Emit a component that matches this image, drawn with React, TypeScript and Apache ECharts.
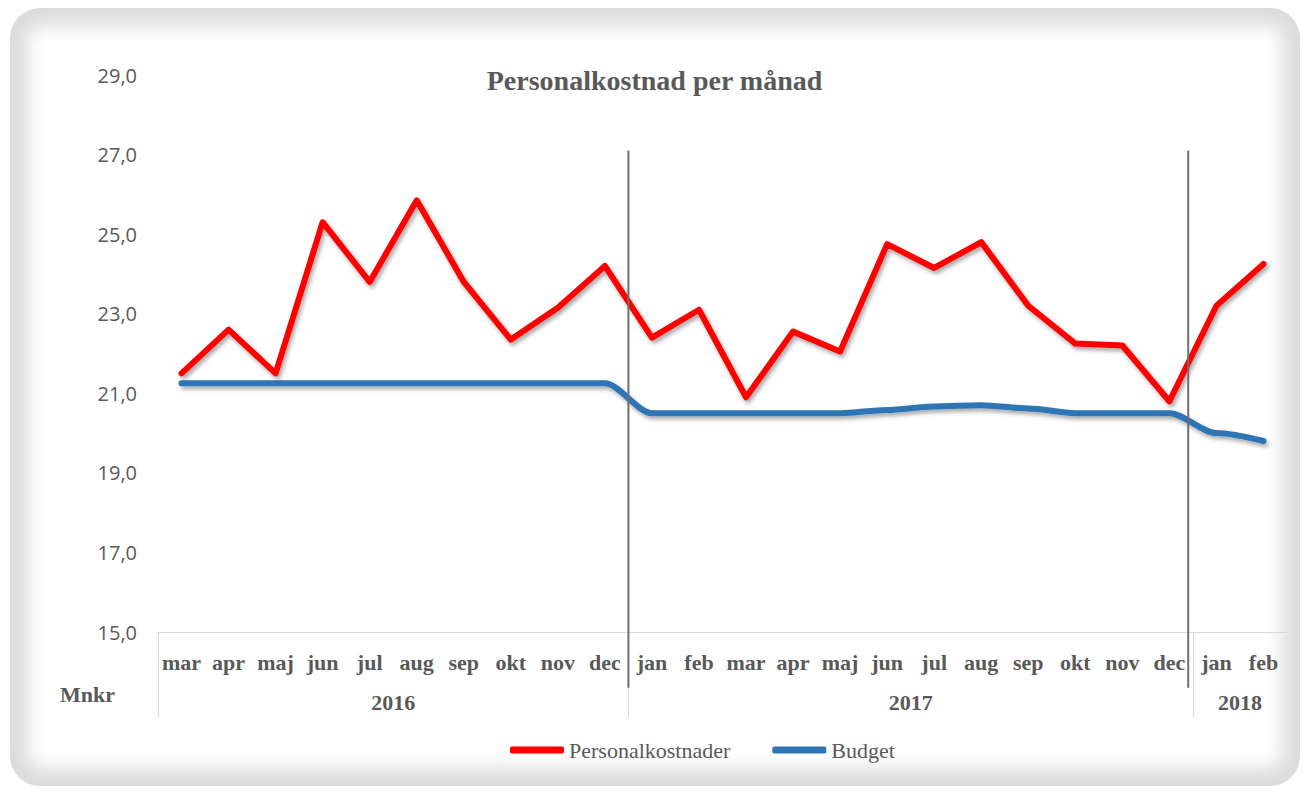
import React, { useEffect, useRef } from "react";
import * as echarts from "echarts";

const months = ["mar", "apr", "maj", "jun", "jul", "aug", "sep", "okt", "nov", "dec", "jan", "feb", "mar", "apr", "maj", "jun", "jul", "aug", "sep", "okt", "nov", "dec", "jan", "feb"];
const monthYears = [2016, 2016, 2016, 2016, 2016, 2016, 2016, 2016, 2016, 2016, 2017, 2017, 2017, 2017, 2017, 2017, 2017, 2017, 2017, 2017, 2017, 2017, 2018, 2018];
const personalkostnader = [21.5, 22.6, 21.5, 25.3, 23.8, 25.85, 23.8, 22.35, 23.15, 24.2, 22.4, 23.1, 20.9, 22.55, 22.05, 24.75, 24.15, 24.8, 23.2, 22.25, 22.2, 20.8, 23.2, 24.25];
const budget = [21.25, 21.25, 21.25, 21.25, 21.25, 21.25, 21.25, 21.25, 21.25, 21.25, 20.5, 20.5, 20.5, 20.5, 20.5, 20.58, 20.67, 20.7, 20.62, 20.5, 20.5, 20.5, 20.0, 19.8];
const yearLabels = ["2016", "2017", "2018"];
const yearCenters = [5, 16, 23];
const yearBounds = [0, 10, 22];
const dividerPositions = [10, 21.9];
const dividerRange = [27.1, 13.6];

const TEXT = "#595959";
const SERIF = "'Liberation Serif', 'Times New Roman', serif";

export default function App() {
  const ref = useRef<HTMLDivElement>(null);
  useEffect(() => {
    if (!ref.current) return;
    const chart = echarts.init(ref.current, null, { renderer: "svg" });
    const categories = months.map((m, i) => `${monthYears[i]}-${m}`);
    const shadow = {
      shadowColor: "rgba(0,0,0,0.35)",
      shadowBlur: 4,
      shadowOffsetX: 2,
      shadowOffsetY: 3,
    };
    const dividerSeries = dividerPositions.map((x, i) => ({
      name: `divider${i}`,
      type: "line",
      xAxisIndex: 1,
      yAxisIndex: 0,
      clip: false,
      symbol: "none",
      silent: true,
      z: 5,
      lineStyle: { color: "#6e6e6e", width: 2 },
      data: dividerRange.map((y) => [x, y]),
    }));
    chart.setOption({
      animation: false,
      backgroundColor: "transparent",
      title: {
        text: "Personalkostnad per månad",
        left: "center",
        top: 61,
        textStyle: { fontFamily: SERIF, fontWeight: "bold", fontSize: 28, color: TEXT },
      },
      legend: {
        data: ["Personalkostnader", "Budget"],
        left: 505,
        top: 734,
        icon: "roundRect",
        itemWidth: 54,
        itemHeight: 7,
        itemGap: 42,
        textStyle: { fontFamily: SERIF, fontSize: 22, color: TEXT },
      },
      grid: { left: 158, top: 75, width: 1129, height: 557, containLabel: false },
      xAxis: [
        {
          type: "category",
          data: categories,
          boundaryGap: true,
          axisLine: { show: true, lineStyle: { color: "#d9d9d9", width: 1 } },
          axisTick: { show: false },
          axisLabel: {
            interval: 0,
            margin: 19,
            fontFamily: SERIF,
            fontWeight: "bold",
            fontSize: 22,
            color: TEXT,
            formatter: (v: string) => v.split("-")[1],
          },
          splitLine: { show: false },
        },
        {
          type: "value",
          position: "bottom",
          min: 0,
          max: 24,
          axisLine: { show: false },
          axisTick: {
            show: true,
            customValues: yearBounds,
            length: 85,
            lineStyle: { color: "#d9d9d9", width: 1 },
          },
          axisLabel: {
            show: true,
            customValues: yearCenters,
            margin: 59,
            fontFamily: SERIF,
            fontWeight: "bold",
            fontSize: 22,
            color: TEXT,
            formatter: (v: number) => {
              const i = yearCenters.indexOf(v);
              return i >= 0 ? yearLabels[i] : "";
            },
          },
          splitLine: { show: false },
        },
      ],
      yAxis: {
        type: "value",
        min: 15,
        max: 29,
        interval: 2,
        axisLine: { show: false },
        axisTick: { show: false },
        splitLine: { show: false },
        axisLabel: {
          margin: 21,
          fontFamily: "'Open Sans', sans-serif",
          fontSize: 20,
          color: TEXT,
          formatter: (v: number) => v.toFixed(1).replace(".", ","),
        },
      },
      graphic: [
        {
          type: "text",
          left: 60,
          top: 683,
          style: { text: "Mnkr", font: `bold 22px ${SERIF}`, fill: TEXT },
        },
      ],
      series: [
        {
          name: "Budget",
          type: "line",
          xAxisIndex: 0,
          data: budget,
          symbol: "none",
          smooth: 0.3,
          smoothMonotone: "x",
          color: "#2E75B6",
          z: 2,
          lineStyle: { color: "#2E75B6", width: 6, cap: "round", join: "round", ...shadow },
        },
        {
          name: "Personalkostnader",
          type: "line",
          xAxisIndex: 0,
          data: personalkostnader,
          symbol: "none",
          color: "#FF0000",
          z: 3,
          lineStyle: { color: "#FF0000", width: 6, cap: "round", join: "round", ...shadow },
        },
        ...dividerSeries,
      ],
    });
    return () => chart.dispose();
  }, []);

  return (
    <div style={{ position: "absolute", left: 0, top: 0, width: 1309, height: 793, background: "#fff", overflow: "hidden" }}>
      <div
        style={{
          position: "absolute",
          left: 10,
          top: 8,
          width: 1290,
          height: 778,
          borderRadius: 30,
          background: "#fff",
          boxShadow: "inset 0 0 18px 18px #dcdcdc",
        }}
      />
      <div ref={ref} style={{ position: "absolute", left: 0, top: 0, width: 1309, height: 793 }} />
    </div>
  );
}
